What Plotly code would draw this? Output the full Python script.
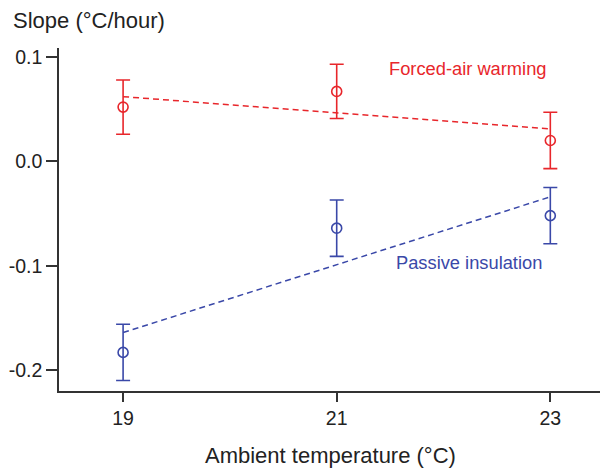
import plotly.graph_objects as go

temps = [19, 21, 23]
forced_mean = [0.052, 0.067, 0.020]
forced_err = [0.026, 0.026, 0.027]
passive_mean = [-0.183, -0.064, -0.052]
passive_err = [0.027, 0.027, 0.027]
forced_fit = [0.062, 0.031]
passive_fit = [-0.164, -0.034]
fit_x = [19, 23]
x_ticks = [19, 21, 23]
y_ticks = [0.1, 0.0, -0.1, -0.2]
y_tick_text = ["0.1", "0.0", "-0.1", "-0.2"]

RED = "#e8262b"
BLUE = "#3a48a8"
FONT = "Arial, Liberation Sans, sans-serif"

fig = go.Figure()
fig.add_trace(go.Scatter(x=fit_x, y=forced_fit, mode="lines",
                         line=dict(color=RED, width=1.5, dash="6px,4px"), showlegend=False))
fig.add_trace(go.Scatter(x=fit_x, y=passive_fit, mode="lines",
                         line=dict(color=BLUE, width=1.5, dash="6px,4px"), showlegend=False))
fig.add_trace(go.Scatter(x=temps, y=forced_mean, mode="markers",
                         marker=dict(symbol="circle-open", size=10, color=RED, line=dict(width=1.6)),
                         error_y=dict(type="data", array=forced_err, color=RED, thickness=1.6, width=7),
                         showlegend=False))
fig.add_trace(go.Scatter(x=temps, y=passive_mean, mode="markers",
                         marker=dict(symbol="circle-open", size=10, color=BLUE, line=dict(width=1.6)),
                         error_y=dict(type="data", array=passive_err, color=BLUE, thickness=1.6, width=7),
                         showlegend=False))

fig.add_annotation(x=22.227, y=0.089, text="Forced-air warming", showarrow=False,
                   font=dict(family=FONT, size=18.3, color=RED))
fig.add_annotation(x=22.236, y=-0.0967, text="Passive insulation", showarrow=False,
                   font=dict(family=FONT, size=18.3, color=BLUE))
fig.add_annotation(xref="paper", yref="paper", x=-0.088, y=1.0, yshift=28, xanchor="left",
                   yanchor="middle", text="Slope (°C/hour)", showarrow=False,
                   font=dict(family=FONT, size=22, color="#222"))
fig.add_annotation(xref="paper", yref="paper", x=0.4954, y=0.0, yshift=-64, xanchor="center",
                   yanchor="middle", text="Ambient temperature (°C)", showarrow=False,
                   font=dict(family=FONT, size=22, color="#222"))

# the page body has an 8px margin, so the figure is drawn 8px right and down
fig.update_layout(
    width=600, height=460,
    margin=dict(l=51, r=0, t=40, b=77),
    paper_bgcolor="white", plot_bgcolor="white",
    font=dict(family=FONT, size=19.5, color="#222"),
    xaxis=dict(range=[18.4, 23.54], tickvals=x_ticks, ticktext=[str(t) for t in x_ticks],
               automargin=False,
               showgrid=False, zeroline=False, showline=True, linecolor="#333", linewidth=1.5,
               ticks="outside", ticklen=9, tickwidth=1.5, tickcolor="#333",
               tickfont=dict(size=19.5)),
    yaxis=dict(range=[-0.22, 0.1086], tickvals=y_ticks, ticktext=y_tick_text,
               automargin=False,
               showgrid=False, zeroline=False, showline=True, linecolor="#333", linewidth=1.5,
               ticks="outside", ticklen=11, tickwidth=1.5, tickcolor="#333",
               tickfont=dict(size=19.5)),
)

fig.write_html("out.html")
